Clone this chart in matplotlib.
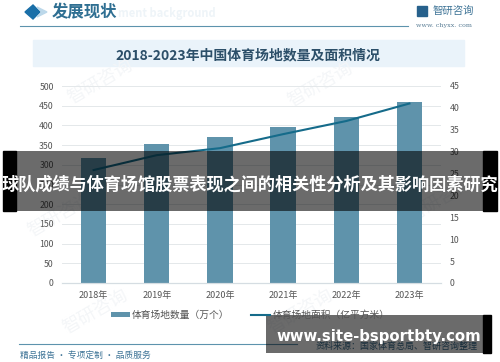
import matplotlib
matplotlib.use('Agg')
import matplotlib.pyplot as plt
from matplotlib.patches import Rectangle, Polygon

plt.rcParams['font.family'] = ['Noto Sans CJK SC', 'DejaVu Sans']

years = ['2018年', '2019年', '2020年', '2021年', '2022年', '2023年']
venue_count = [316, 354, 371, 397, 422, 459]
venue_area = [25.8, 29.2, 30.8, 34.0, 37.0, 41.0]
left_ticks = [0, 50, 100, 150, 200, 250, 300, 350, 400, 450, 500]
right_ticks = [0, 5, 10, 15, 20, 25, 30, 35, 40, 45]

W, H = 500, 362
fig = plt.figure(figsize=(W / 100, H / 100), dpi=100)

# background layer in pixel coordinates
bg = fig.add_axes([0, 0, 1, 1])
bg.set_xlim(0, W)
bg.set_ylim(H, 0)
bg.axis('off')

# faint watermarks
for wx, wy in [(100, 82), (320, 85), (95, 312), (300, 312), (440, 200), (60, 215)]:
    bg.text(wx, wy, '智研咨询', fontsize=13, color='#f4f6f8', rotation=30, ha='center', va='center')

bg.add_patch(Polygon([(25, 12), (33, 5), (40, 12), (33, 19)], color='#1a6fa8'))
bg.add_patch(Polygon([(37, 7), (42, 12), (37, 17), (47, 12)], color='#bcd8ea'))
bg.text(52, 12, '发展现状', fontsize=11.8, color='#2f6f92', weight='bold', va='center')
bg.text(118, 14, 'ment background', fontsize=8, color='#eef4f8', weight='bold', va='center')
bg.plot([20, 408], [26, 26], color='#5d93ad', lw=0.8)
bg.add_patch(Rectangle((417, 6), 10, 10, color='#27618c'))
bg.text(433, 11, '智研咨询', fontsize=7.5, color='#3d7396', va='center')
bg.text(416, 25, 'www. chyxx. com', fontsize=4.6, color='#5b7f96', va='center', family='DejaVu Serif')

bg.add_patch(Rectangle((33, 40), 431, 26, color='#eaf3fa'))
bg.text(248, 55, '2018-2023年中国体育场地数量及面积情况', fontsize=10, color='#2c4f69',
        weight='bold', ha='center', va='center')

bg.plot([19, 297], [344, 344], color='#5d93ad', lw=0.8)
bg.text(20, 355, '精品报告 · 专项定制 · 品质服务', fontsize=6.3, color='#3d7396', va='center')
bg.text(478, 346, '资料来源：国家体育总局、智研咨询整理', fontsize=6.5, color='#3d6f8f',
        ha='right', va='center')

# chart
ax = fig.add_axes([62 / W, 1 - 283 / H, 379 / W, 197 / H], facecolor='none')
ax2 = ax.twinx()
x = range(len(years))
bars = ax.bar(x, venue_count, width=0.4, color='#5f93ab')
ax.set_xlim(-0.5, 5.5)
ax.set_ylim(0, 500)
ax.set_yticks(left_ticks)
ax.set_xticks(list(x))
ax.set_xticklabels(years)
ax.yaxis.grid(True, color='#e4e8ea', lw=0.7)
ax.set_axisbelow(True)
line, = ax2.plot(x, venue_area, color='#156b8a', lw=1.5)
ax2.set_ylim(0, 45)
ax2.set_yticks(right_ticks)

for a in (ax, ax2):
    for s in a.spines.values():
        s.set_visible(False)
    a.spines['bottom'].set_visible(True)
    a.spines['bottom'].set_color('#d5dde2')
    a.tick_params(length=0, labelsize=6.3, labelcolor='#555555', pad=6)
ax.tick_params(axis='x', labelsize=6.5, pad=6)

fig.legend([bars, line], ['体育场地数量（万个）', '体育场地面积（亿平方米）'], loc='center',
           bbox_to_anchor=(0.5, 1 - 315 / H), ncol=2, frameon=False, fontsize=7,
           labelcolor='#555555', columnspacing=2.2, handlelength=2.0, handleheight=0.4,
           handletextpad=0.2)

# overlay banners on top of everything
top = fig.add_axes([0, 0, 1, 1], facecolor='none')
top.set_xlim(0, W)
top.set_ylim(H, 0)
top.axis('off')
top.add_patch(Rectangle((3, 151), 13, 60, color='black'))
top.add_patch(Rectangle((483, 151), 14, 60, color='black'))
top.add_patch(Rectangle((16, 151), 467, 60, color='black', alpha=0.58, lw=0))
top.text(250, 185, '球队成绩与体育场馆股票表现之间的相关性分析及其影响因素研究', fontsize=12.35,
         color='white', weight='bold', ha='center', va='center')
top.add_patch(Rectangle((266, 315), 217, 38, color='black', alpha=0.58, lw=0))
top.add_patch(Rectangle((483, 315), 8, 38, color='black'))
top.text(378.5, 337, 'www.site-bsportbty.com', fontsize=10.7, color='white', weight='bold',
         ha='center', va='center', family='DejaVu Sans')

fig.savefig('out.png', dpi=100)
